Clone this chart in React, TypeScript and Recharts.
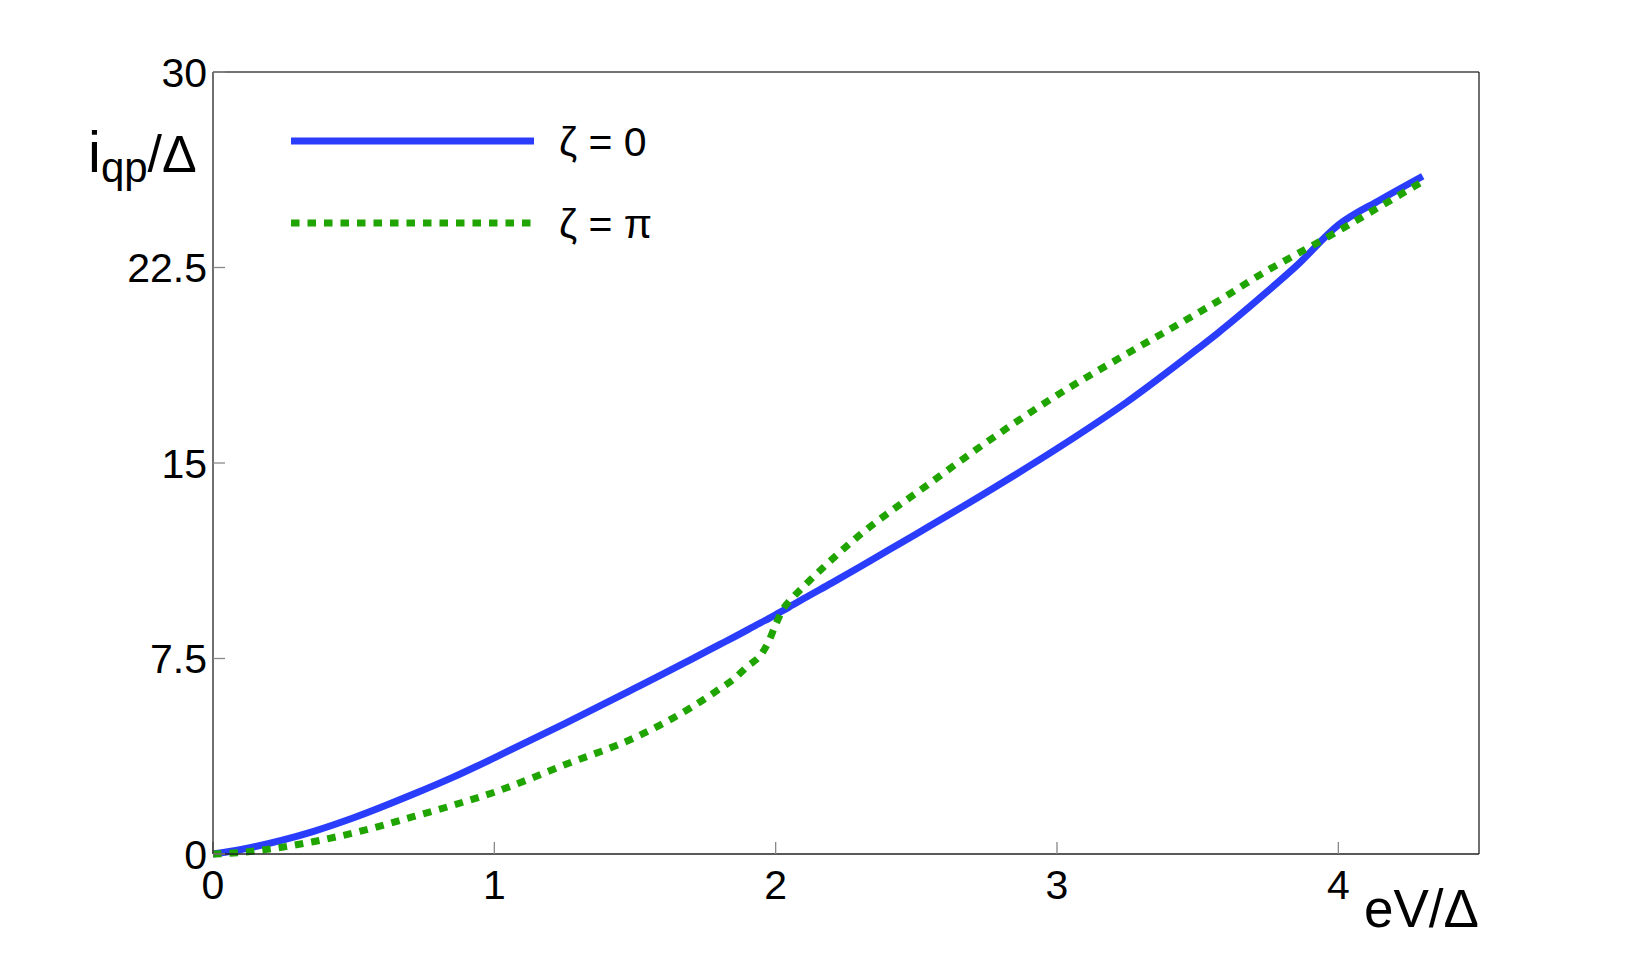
import React from 'react';
import { LineChart, Line, XAxis, YAxis, Legend } from 'recharts';

const xValues = [0, 0.1, 0.25, 0.355, 0.5, 0.711, 0.85, 1.0, 1.25, 1.5, 1.6, 1.7, 1.8, 1.85, 1.9, 1.95, 1.975, 2.0, 2.025, 2.06, 2.1, 2.2, 2.3, 2.4, 2.5, 2.75, 3.0, 3.25, 3.5, 3.57, 3.75, 3.85, 4.0, 4.15, 4.3];
const zeta0 = [0, 0.175, 0.54, 0.86, 1.39, 2.29, 2.93, 3.69, 5.0, 6.36, 6.91, 7.47, 8.03, 8.31, 8.6, 8.89, 9.03, 9.18, 9.33, 9.55, 9.8, 10.4, 11.02, 11.65, 12.28, 13.88, 15.55, 17.35, 19.38, 19.97, 21.6, 22.55, 24.13, 25.1, 26.0];
const zetaPi = [0, 0.06, 0.27, 0.47, 0.81, 1.43, 1.86, 2.37, 3.42, 4.47, 5.01, 5.62, 6.33, 6.7, 7.2, 7.68, 8.15, 8.8, 9.37, 9.83, 10.27, 11.3, 12.25, 13.08, 13.85, 15.8, 17.6, 19.2, 20.75, 21.2, 22.4, 23.0, 23.9, 24.85, 25.8];

const xTicks = [0, 1, 2, 3, 4];
const yTicks = [0, 7.5, 15, 22.5, 30];
const seriesNames = ['ζ = 0', 'ζ = π'];
const seriesKeys = ['zeta0', 'zetaPi'];
const seriesColors = ['#2b3dfc', '#1fa400'];
const seriesDash = [undefined, '8.5 8'];

const data = xValues.map((x, i) => ({ x, zeta0: zeta0[i], zetaPi: zetaPi[i] }));

const FONT = '"Liberation Sans", Arial, Helvetica, sans-serif';

const YLabel = (props: any) => {
  const vb = props.viewBox || { x: 0, y: 0, width: 0, height: 0 };
  return (
    <text x={vb.x - 65} y={vb.y + 100} fontFamily={FONT} fill="#000" textAnchor="start">
      <tspan fontSize={58}>i</tspan>
      <tspan fontSize={42} dy={10}>qp</tspan>
      <tspan fontSize={52} dy={-10}>/Δ</tspan>
    </text>
  );
};

const XLabel = (props: any) => {
  const vb = props.viewBox || { x: 0, y: 0, width: 0, height: 0 };
  return (
    <text x={vb.x + vb.width} y={vb.y + 73} fontFamily={FONT} fontSize={53} fill="#000" textAnchor="end">
      eV/Δ
    </text>
  );
};

const renderLegend = (props: any) => {
  const payload = props.payload || [];
  return (
    <svg width={420} height={170} style={{ display: 'block' }}>
      {payload.map((entry: any, i: number) => {
        const idx = seriesKeys.indexOf(entry.dataKey);
        const y = 41 + i * 82;
        return (
          <g key={i}>
            <line x1={11} x2={254} y1={y} y2={y} stroke={seriesColors[idx]} strokeWidth={7} strokeDasharray={seriesDash[idx]} />
            <text x={279} y={y + 15} fontFamily={FONT} fontSize={41} fill="#000">{seriesNames[idx]}</text>
          </g>
        );
      })}
    </svg>
  );
};

export default function App() {
  return (
    <div style={{ position: 'absolute', left: 0, top: 0, width: 1634, height: 961, background: '#fff' }}>
      <LineChart width={1634} height={961} data={data} margin={{ top: 71, left: 153, right: 154, bottom: 77 }}>
        <XAxis
          xAxisId="b"
          dataKey="x"
          type="number"
          domain={[0, 4.5]}
          ticks={xTicks}
          height={30}
          tickSize={-12}
          tickMargin={28}
          tickLine={{ stroke: '#888', strokeWidth: 1.3 }}
          axisLine={{ stroke: '#222', strokeWidth: 1.3 }}
          tick={{ fontSize: 41, fill: '#000', fontFamily: FONT }}
          label={<XLabel />}
        />
        <XAxis
          xAxisId="t"
          orientation="top"
          dataKey="x"
          type="number"
          domain={[0, 4.5]}
          ticks={xTicks}
          height={1}
          tickSize={-12}
          tick={false}
          tickLine={{ stroke: '#888', strokeWidth: 1.3 }}
          axisLine={{ stroke: '#444', strokeWidth: 1.3 }}
        />
        <YAxis
          yAxisId="l"
          type="number"
          domain={[0, 30]}
          ticks={yTicks}
          width={60}
          tickSize={-12}
          tickMargin={18}
          tickLine={{ stroke: '#888', strokeWidth: 1.3 }}
          axisLine={{ stroke: '#222', strokeWidth: 1.3 }}
          tick={{ fontSize: 41, fill: '#000', fontFamily: FONT }}
          label={<YLabel />}
        />
        <YAxis
          yAxisId="r"
          orientation="right"
          type="number"
          domain={[0, 30]}
          ticks={yTicks}
          width={1}
          tickSize={-12}
          tick={false}
          tickLine={{ stroke: '#555', strokeWidth: 1.3 }}
          axisLine={{ stroke: '#222', strokeWidth: 1.3 }}
        />
        <Legend
          content={renderLegend}
          layout="vertical"
          align="center"
          verticalAlign="middle"
          wrapperStyle={{ position: 'absolute', left: 280, top: 100, width: 420, height: 170 }}
        />
        <Line
          xAxisId="b"
          yAxisId="l"
          dataKey="zeta0"
          name={seriesNames[0]}
          type="monotone"
          stroke={seriesColors[0]}
          strokeWidth={7}
          dot={false}
          isAnimationActive={false}
        />
        <Line
          xAxisId="b"
          yAxisId="l"
          dataKey="zetaPi"
          name={seriesNames[1]}
          type="monotone"
          stroke={seriesColors[1]}
          strokeWidth={7}
          strokeDasharray={seriesDash[1]}
          dot={false}
          isAnimationActive={false}
        />
      </LineChart>
    </div>
  );
}
